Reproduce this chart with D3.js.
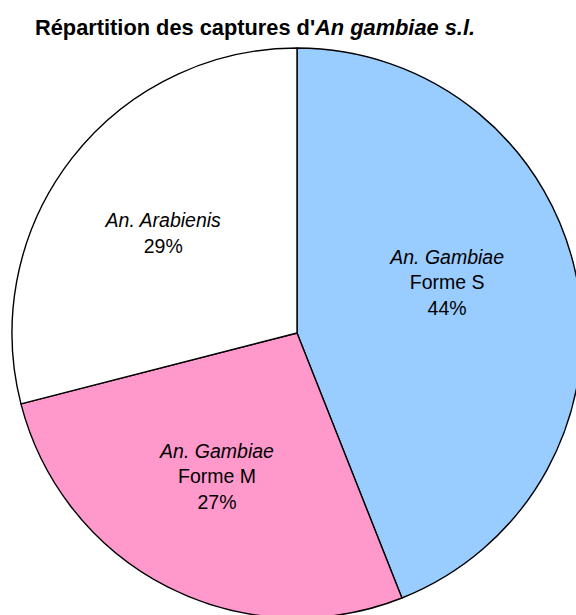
<!DOCTYPE html>
<html>
<head>
<meta charset="utf-8">
<script src="https://cdn.jsdelivr.net/npm/d3@7"></script>
<style>
  html, body { margin: 0; padding: 0; background: #fff; }
  svg { display: block; }
</style>
</head>
<body>
<svg id="chart" width="576" height="615"></svg>
<script>
// Catch composition of An. gambiae s.l.
const species = ["An. Gambiae", "An. Gambiae", "An. Arabienis"];
const forms = ["Forme S", "Forme M", ""];
const shares = [44, 27, 29];
const fills = ["#99CCFF", "#FF99CC", "#FFFFFF"];

const svg = d3.select("#chart");
const cx = 297, cy = 333, radius = 285;

// Title with italic species name
const title = svg.append("text")
  .attr("x", 255).attr("y", 35)
  .attr("text-anchor", "middle")
  .style("font-family", "'Liberation Sans', Arial, sans-serif")
  .style("font-size", "21.8px")
  .style("font-weight", "bold")
  .attr("fill", "#000");
title.append("tspan").text("Répartition des captures d'");
title.append("tspan").style("font-style", "italic").text("An gambiae s.l.");

const data = shares.map((v, i) => ({ species: species[i], form: forms[i], value: v, fill: fills[i] }));

const pie = d3.pie().value(d => d.value).sort(null);
const arc = d3.arc().innerRadius(0).outerRadius(radius);
const labelArc = d3.arc().innerRadius(163).outerRadius(163);

const g = svg.append("g").attr("transform", `translate(${cx},${cy})`);
const arcs = pie(data);

g.selectAll("path.slice")
  .data(arcs)
  .join("path")
  .attr("class", "slice")
  .attr("d", arc)
  .attr("fill", d => d.data.fill)
  .attr("stroke", "#000")
  .attr("stroke-width", 1.4)
  .attr("stroke-linejoin", "round");

// Small placement nudges for the label blocks
const nudges = [[-10, -18], [-6, 0], [-5, 2]];

const labels = g.selectAll("g.label")
  .data(arcs)
  .join("g")
  .attr("class", "label")
  .attr("transform", (d, i) => {
    const [x, y] = labelArc.centroid(d);
    return `translate(${x + nudges[i][0]},${y + nudges[i][1]})`;
  });

labels.each(function (d) {
  const lines = [{ t: d.data.species, italic: true }];
  if (d.data.form) lines.push({ t: d.data.form, italic: false });
  lines.push({ t: d.data.value + "%", italic: false });
  const lh = 25.5;
  const start = -((lines.length - 1) * lh) / 2 + 5;
  d3.select(this).selectAll("text")
    .data(lines)
    .join("text")
    .attr("x", 0)
    .attr("y", (l, j) => start + j * lh)
    .attr("text-anchor", "middle")
    .style("font-family", "'Liberation Sans', Arial, sans-serif")
    .style("font-size", "19.5px")
    .style("font-style", l => l.italic ? "italic" : "normal")
    .attr("fill", "#000")
    .text(l => l.t);
});
</script>
</body>
</html>
